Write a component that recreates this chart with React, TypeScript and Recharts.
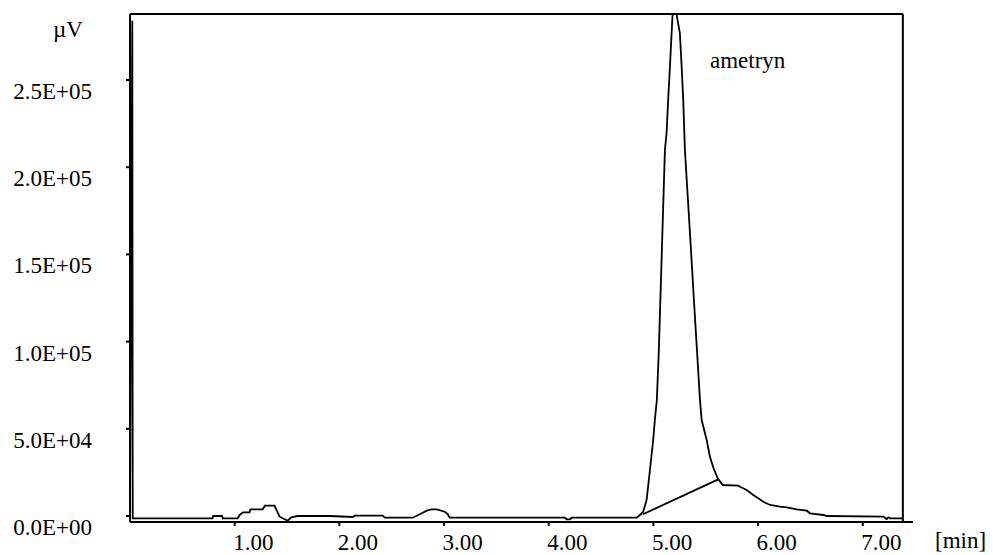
import React from "react";
import { LineChart, Line, XAxis, YAxis, ReferenceLine } from "recharts";

// retention time [min]
const times: number[] = [
  0.0, 0.022, 0.026, 0.789, 0.795, 0.88, 0.886, 1.028, 1.047, 1.08, 1.142, 1.15, 1.267, 1.29, 1.381,
  1.429, 1.506, 1.541, 1.601, 1.91, 2.13, 2.146, 2.414, 2.433, 2.701, 2.787, 2.835, 2.88, 2.93,
  3.007, 3.035, 3.054, 4.154, 4.173, 4.202, 4.221, 4.842, 4.88, 4.902, 4.935, 4.967, 4.998, 5.014,
  5.033, 5.052, 5.081, 5.11, 5.126, 5.141, 5.158, 5.174, 5.182, 5.201, 5.222, 5.253, 5.27, 5.285,
  5.301, 5.33, 5.359, 5.387, 5.416, 5.445, 5.461, 5.509, 5.54, 5.574, 5.614, 5.662, 5.811, 5.827,
  5.891, 5.954, 6.002, 6.05, 6.114, 6.209, 6.274, 6.369, 6.465, 6.496, 6.623, 6.656, 7.197, 7.229,
  7.245, 7.261, 7.383,
];

// detector signal [µV]
const signal: number[] = [
  -1320, 284000, -1320, -1320, 0, 0, -1320, -1320, 570, 2120, 2120, 3840, 3840, 5900, 5900,
  -400, -2700, -750, 0, 0, -570, 170, 170, -975, -975, 1550, 3040, 3840, 3840,
  2470, 1150, -975, -975, -1890, -1890, -975, -975, 1000, 2470, 9170, 26380, 43580, 55050,
  66510, 95180, 152500, 209900, 219600, 238500, 257600, 276800, 286300, 300000, 287300, 276800, 257600, 238500,
  209900, 181200, 152500, 123900, 95180, 66510, 55050, 43580, 34000, 27520, 21620, 17770, 17370, 16800,
  14910, 12040, 10150, 8200, 6310, 5330, 4990, 3840, 3040, 1550, 573, 0, -400, -1720,
  -750, -1320, -1320,
];

// integration baseline under the ametryn peak
const baseTimes: number[] = [4.9, 5.62];
const baseValues: number[] = [1000, 21000];

const xTicks: number[] = [1, 2, 3, 4, 5, 6, 7];
const xTickLabels: string[] = ["1.00", "2.00", "3.00", "4.00", "5.00", "6.00", "7.00"];
const yTicks: number[] = [0, 50000, 100000, 150000, 200000, 250000];
const yTickLabels: string[] = ["0.0E+00", "5.0E+04", "1.0E+05", "1.5E+05", "2.0E+05", "2.5E+05"];

const X_MIN = 0;
const X_MAX = 7.48;
const X_FRAME = 7.383;
const Y_MIN = -3440;
const Y_MAX = 287850;

const data = times.map((t, i) => ({ t, v: signal[i] }));
const baseData = baseTimes.map((t, i) => ({ t, v: baseValues[i] }));

const FONT = '"Liberation Serif", "Times New Roman", "DejaVu Serif", serif';
const FS = 23;
const textStyle: React.CSSProperties = { fontFamily: FONT, fontSize: FS };

const XTick = (props: any) => {
  const { x, y, payload } = props;
  const idx = xTicks.indexOf(payload.value);
  return (
    <text x={x - 1.5} y={y + 22} textAnchor="start" style={textStyle} fill="#000">
      {idx >= 0 ? xTickLabels[idx] : ""}
    </text>
  );
};

const YTick = (props: any) => {
  const { y, payload } = props;
  const idx = yTicks.indexOf(payload.value);
  return (
    <text x={92} y={y + 19} textAnchor="end" style={textStyle} fill="#000">
      {idx >= 0 ? yTickLabels[idx] : ""}
    </text>
  );
};

export default function App() {
  return (
    <div style={{ position: "absolute", left: 0, top: 0, width: 993, height: 555, background: "#fff", fontFamily: FONT }}>
      <LineChart width={993} height={555} data={data} margin={{ top: 14, right: 80, bottom: 0, left: 0 }} style={{ fontFamily: FONT }}>
        <XAxis
          type="number"
          dataKey="t"
          domain={[X_MIN, X_MAX]}
          ticks={xTicks}
          allowDataOverflow
          height={33}
          tickSize={4}
          axisLine={{ stroke: "#000", strokeWidth: 2 }}
          tickLine={{ stroke: "#000", strokeWidth: 2 }}
          tick={<XTick />}
        />
        <YAxis
          type="number"
          domain={[Y_MIN, Y_MAX]}
          ticks={yTicks}
          allowDataOverflow
          width={130}
          tickSize={4}
          axisLine={{ stroke: "#000", strokeWidth: 2 }}
          tickLine={{ stroke: "#000", strokeWidth: 2 }}
          tick={<YTick />}
        />
        <ReferenceLine
          segment={[{ x: X_MIN, y: Y_MAX }, { x: X_FRAME, y: Y_MAX }]}
          stroke="#000"
          strokeWidth={2}
        />
        <ReferenceLine
          segment={[{ x: X_FRAME, y: Y_MIN }, { x: X_FRAME, y: Y_MAX }]}
          stroke="#000"
          strokeWidth={2}
        />
        <Line
          type="linear"
          dataKey="v"
          stroke="#000"
          strokeWidth={1.8}
          dot={false}
          activeDot={false}
          isAnimationActive={false}
        />
        <Line
          type="linear"
          data={baseData}
          dataKey="v"
          stroke="#000"
          strokeWidth={1.8}
          dot={false}
          activeDot={false}
          isAnimationActive={false}
        />
      </LineChart>
      <svg width={993} height={555} style={{ position: "absolute", left: 0, top: 0, pointerEvents: "none" }}>
        <text x={53} y={37} style={textStyle} fill="#000">µV</text>
        <text x={710} y={68} style={textStyle} fill="#000">ametryn</text>
        <text x={935} y={548} style={textStyle} fill="#000">[min]</text>
      </svg>
    </div>
  );
}
